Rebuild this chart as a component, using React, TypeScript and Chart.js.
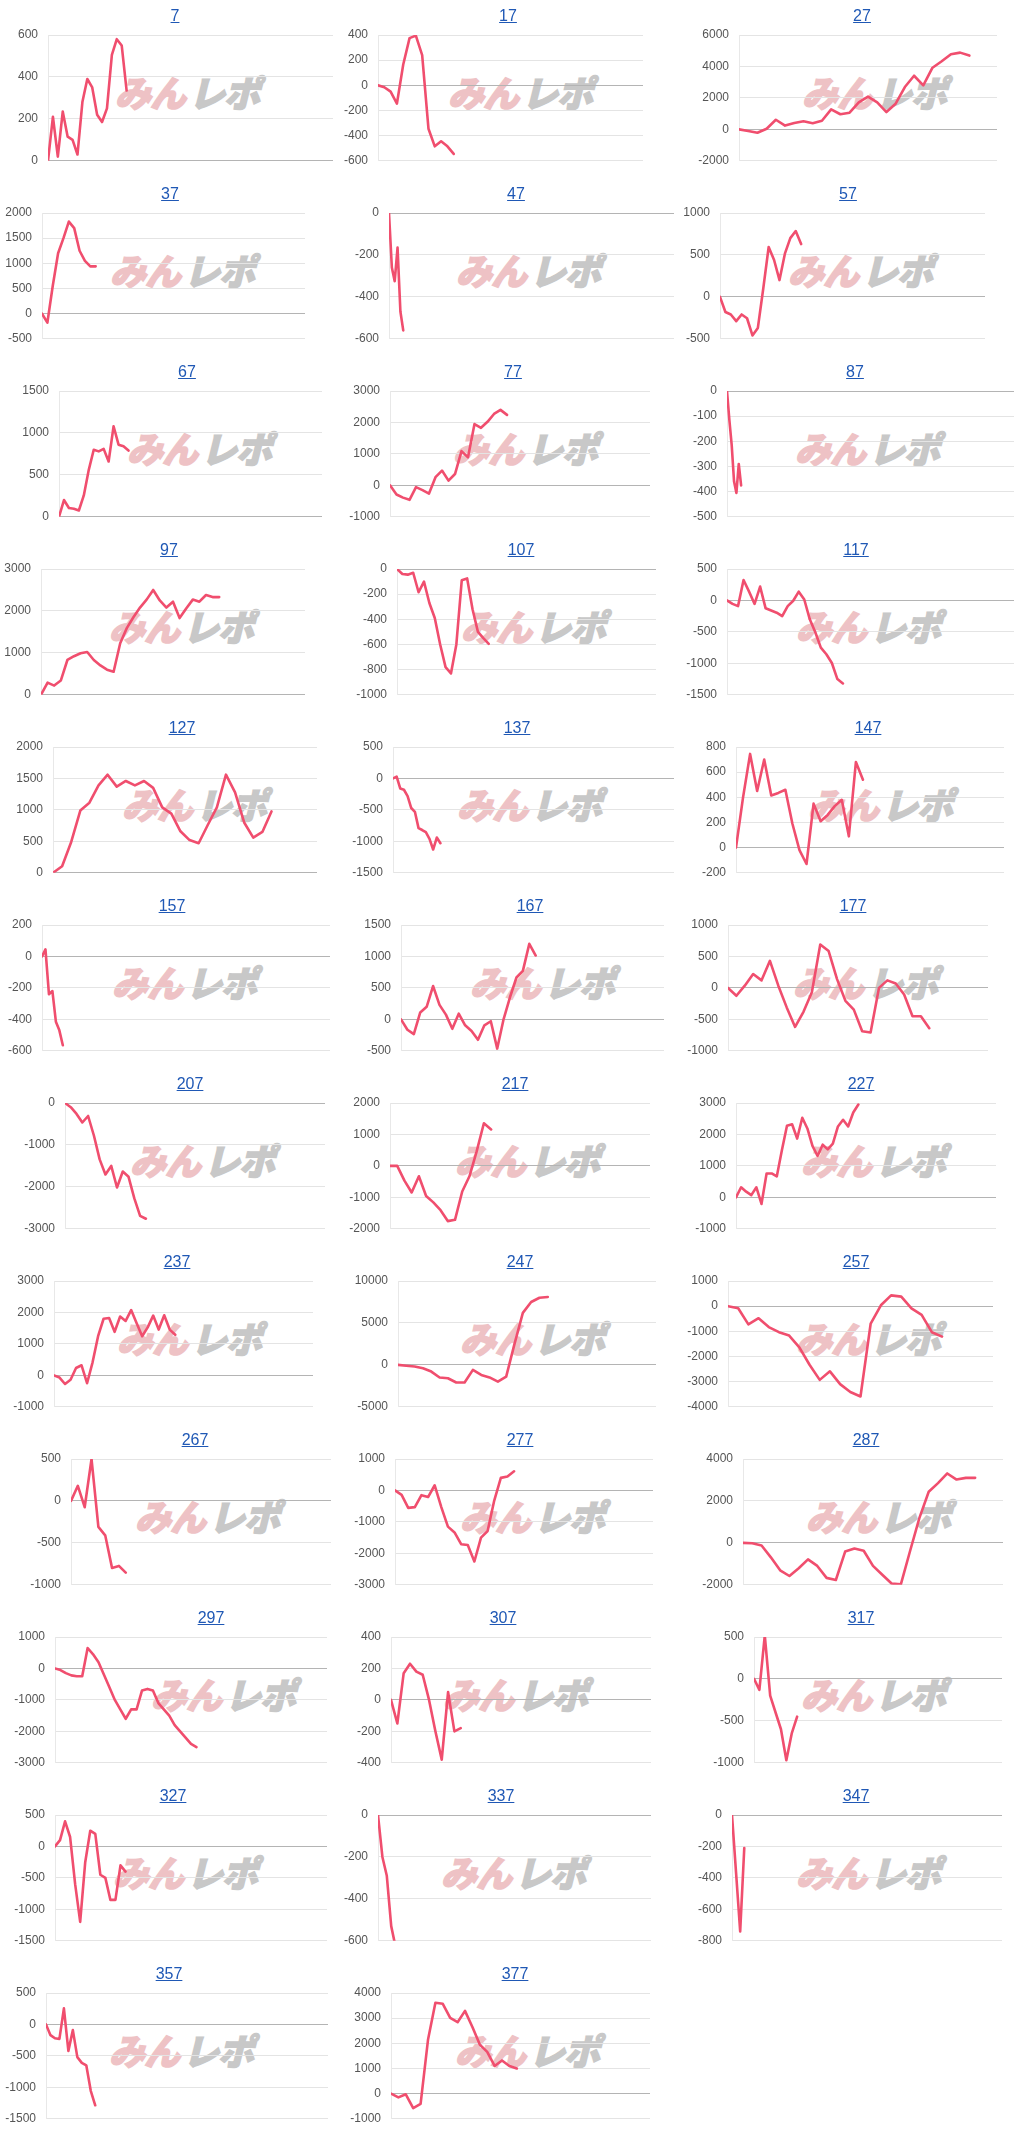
import React, { useEffect, useRef } from "react";
import { Chart, registerables } from "chart.js";

Chart.register(...registerables);

// ---- chart titles (machine numbers) ----
const chartIds = [
  "7", "17", "27", "37", "47", "57", "67", "77", "87", "97", "107", "117",
  "127", "137", "147", "157", "167", "177", "207", "217", "227", "237", "247", "257",
  "267", "277", "287", "297", "307", "317", "327", "337", "347", "357", "377",
];

// ---- series values (one point per day) ----
const s7 = [0, 210, 20, 235, 115, 100, 30, 280, 390, 350, 220, 185, 250, 505, 580, 550, 335];
const s17 = [0, -15, -50, -145, 165, 375, 395, 240, -345, -485, -445, -485, -545];
const s27 = [0, -100, -220, 40, 610, 240, 400, 510, 390, 550, 1270, 960, 1060, 1710, 2080, 1710, 1100, 1630, 2690, 3410, 2800, 3920, 4330, 4780, 4880, 4690];
const s37 = [0, -180, 550, 1200, 1500, 1830, 1700, 1250, 1050, 940, 940];
const s47 = [0, -260, -325, -165, -470, -560];
const s57 = [0, -180, -210, -290, -210, -255, -460, -370, 100, 595, 440, 200, 515, 700, 785, 630];
const s67 = [0, 200, 105, 95, 75, 255, 560, 800, 780, 810, 660, 1080, 860, 840, 790];
const s77 = [0, -290, -390, -460, -55, -150, -260, 260, 470, 150, 360, 1090, 890, 1950, 1830, 2020, 2270, 2400, 2240];
const s87 = [0, -115, -215, -360, -405, -290, -375];
const s97 = [0, 290, 220, 340, 830, 920, 990, 1020, 830, 700, 600, 550, 1230, 1590, 1850, 2080, 2270, 2500, 2250, 2080, 2220, 1830, 2060, 2270, 2220, 2380, 2330, 2330];
const s107 = [0, -40, -45, -30, -185, -100, -270, -390, -600, -780, -830, -600, -90, -75, -320, -500, -550, -595];
const s117 = [0, -55, -90, 325, 140, -55, 220, -125, -160, -195, -250, -90, -5, 140, 15, -300, -505, -750, -855, -995, -1250, -1320];
const s127 = [0, 105, 490, 990, 1115, 1390, 1560, 1370, 1460, 1390, 1460, 1350, 1040, 940, 660, 520, 470, 760, 1040, 1560, 1280, 800, 560, 650, 975];
const s137 = [0, 30, -160, -180, -280, -470, -530, -790, -820, -855, -960, -1130, -940, -1030];
const s147 = [0, 400, 745, 450, 700, 415, 435, 460, 190, -20, -130, 350, 210, 260, 330, 380, 90, 680, 540];
const s157 = [0, 45, -240, -220, -415, -470, -565];
const s167 = [0, -165, -235, 110, 200, 530, 230, 75, -150, 90, -95, -185, -325, -95, -30, -465, 5, 355, 665, 770, 1200, 1015];
const s177 = [0, -125, 35, 220, 120, 430, 35, -310, -620, -380, -70, 690, 585, 140, -205, -345, -690, -710, 0, 120, 70, -105, -450, -450, -640];
const s207 = [0, -100, -260, -465, -310, -775, -1345, -1705, -1500, -2015, -1635, -1760, -2275, -2690, -2760];
const s217 = [0, 0, -470, -845, -330, -955, -1160, -1410, -1755, -1715, -815, -330, 460, 1355, 1160];
const s227 = [0, 320, 180, 70, 320, -210, 760, 760, 665, 1495, 2280, 2325, 1870, 2530, 2190, 1635, 1315, 1675, 1525, 1705, 2255, 2465, 2255, 2700, 2950];
const s237 = [0, -70, -275, -140, 235, 320, -250, 415, 1245, 1800, 1825, 1385, 1870, 1730, 2075, 1660, 1245, 1525, 1900, 1455, 1910, 1455, 1290];
const s247 = [0, -100, -200, -400, -800, -1500, -1600, -2100, -2100, -600, -1200, -1500, -2000, -1400, 2500, 6200, 7500, 8000, 8100];
const s257 = [0, -85, -725, -480, -830, -1035, -1170, -1640, -2330, -2930, -2590, -3100, -3410, -3590, -690, 35, 430, 380, -85, -345, -1035, -1210];
const s267 = [0, 180, -75, 500, -310, -410, -800, -775, -855];
const s277 = [0, -140, -555, -530, -150, -210, 165, -530, -1150, -1335, -1710, -1735, -2260, -1500, -1290, -320, 400, 445, 610];
const s287 = [0, -20, -125, -690, -1310, -1580, -1210, -790, -1100, -1670, -1770, -415, -270, -375, -1100, -1520, -1940, -1980, -375, 1190, 2440, 2850, 3310, 3020, 3100, 3100];
const s297 = [0, -50, -150, -220, -250, -250, 650, 450, 200, -200, -600, -1000, -1300, -1600, -1300, -1300, -700, -650, -700, -1100, -1300, -1500, -1800, -2000, -2200, -2400, -2500];
const s307 = [0, -150, 170, 230, 180, 160, 0, -200, -380, 50, -200, -180];
const s317 = [0, -130, 520, -200, -400, -600, -970, -650, -450];
const s327 = [0, 100, 400, 150, -600, -1200, -250, 250, 200, -450, -500, -850, -850, -300, -400];
const s337 = [0, -200, -290, -530, -630];
const s347 = [0, -370, -740, -210];
const s357 = [0, -170, -220, -230, 255, -420, -90, -520, -610, -650, -1055, -1285];
const s377 = [0, -150, -25, -575, -410, 2140, 3610, 3570, 3010, 2840, 3290, 2650, 1950, 1660, 1100, 1320, 1100, 1000];

const seriesList = [
  s7, s17, s27, s37, s47, s57, s67, s77, s87, s97, s107, s117,
  s127, s137, s147, s157, s167, s177, s207, s217, s227, s237, s247, s257,
  s267, s277, s287, s297, s307, s317, s327, s337, s347, s357, s377,
];

// number of day slots on each x axis
const xSpan = [58, 42, 28, 49, 100, 49, 53, 40, 122, 40, 48, 52, 29, 77, 38, 83, 41, 31, 45, 36, 51, 47, 31, 26, 38, 39, 28, 50, 41, 46, 54, 62, 66, 63, 35];

// y axis tick ranges
const yMin = [0, -600, -2000, -500, -600, -500, 0, -1000, -500, 0, -1000, -1500, 0, -1500, -200, -600, -500, -1000, -3000, -2000, -1000, -1000, -5000, -4000, -1000, -3000, -2000, -3000, -400, -1000, -1500, -600, -800, -1500, -1000];
const yMax = [600, 400, 6000, 2000, 0, 1000, 1500, 3000, 0, 3000, 0, 500, 2000, 500, 800, 200, 1500, 1000, 0, 2000, 3000, 3000, 10000, 1000, 500, 1000, 4000, 1000, 400, 500, 500, 0, 0, 500, 4000];
const yStep = [200, 200, 2000, 500, 200, 500, 500, 1000, 100, 1000, 200, 500, 500, 500, 200, 200, 500, 500, 1000, 1000, 1000, 1000, 5000, 1000, 500, 1000, 2000, 1000, 200, 500, 500, 200, 200, 500, 1000];

// ---- layout (plot area edges and title centre inside each 338x178 cell) ----
const plotLeft = [48, 40, 63, 42, 51, 44, 59, 52, 51, 41, 59, 51, 53, 55, 60, 42, 63, 52, 65, 52, 60, 54, 60, 52, 71, 57, 67, 55, 53, 78, 55, 40, 56, 46, 53];
const plotRight = [333, 305, 321, 305, 336, 309, 322, 312, 338, 305, 318, 338, 317, 336, 328, 330, 326, 312, 325, 312, 320, 313, 318, 317, 331, 315, 327, 327, 313, 326, 327, 313, 326, 328, 312];
const titleX = [175, 170, 186, 170, 178, 172, 187, 175, 179, 169, 183, 180, 182, 179, 192, 172, 192, 177, 190, 177, 185, 177, 182, 180, 195, 182, 190, 211, 165, 185, 173, 163, 180, 169, 177];

const CELL_W = 338;
const CELL_H = 178;
const PLOT_TOP = 35;
const PLOT_BOTTOM = 166;
const LINE_COLOR = "rgb(240, 78, 110)";
const FONT = "'Liberation Sans', Arial, Helvetica, sans-serif";

function MiniChart({ idx }: { idx: number }) {
  const ref = useRef<HTMLCanvasElement | null>(null);
  const left = plotLeft[idx];
  const right = plotRight[idx];

  useEffect(() => {
    if (!ref.current) return;
    const values = seriesList[idx];
    const chart = new Chart(ref.current, {
      type: "line",
      data: {
        datasets: [
          {
            data: values.map((v, i) => ({ x: i, y: v })),
            borderColor: LINE_COLOR,
            borderWidth: 2.6,
            pointRadius: 0,
            tension: 0,
            fill: false,
            borderJoinStyle: "round",
            borderCapStyle: "round",
          },
        ],
      },
      options: {
        animation: false,
        responsive: false,
        maintainAspectRatio: false,
        events: [],
        layout: {
          padding: { left: 0, right: CELL_W - right, top: PLOT_TOP, bottom: CELL_H - PLOT_BOTTOM },
        },
        plugins: { legend: { display: false }, title: { display: false }, tooltip: { enabled: false } },
        scales: {
          x: { type: "linear", display: false, min: 0, max: xSpan[idx] },
          y: {
            min: yMin[idx],
            max: yMax[idx],
            afterFit: (scale: any) => {
              scale.width = left;
            },
            ticks: {
              stepSize: yStep[idx],
              padding: 10,
              color: "#555555",
              font: { family: FONT, size: 12 },
              callback: (v: any) => String(v),
            },
            grid: {
              drawTicks: false,
              color: (ctx: any) => (ctx.tick && ctx.tick.value === 0 ? "#b4b4b4" : "#e4e4e4"),
              lineWidth: 1,
            },
            border: { display: true, color: "#e8e8e8" },
          },
        },
      },
    });
    return () => chart.destroy();
  }, [idx]);

  const col = idx % 3;
  const row = Math.floor(idx / 3);
  const tx = titleX[idx];

  return (
    <div
      style={{
        position: "absolute",
        left: col * CELL_W,
        top: row * CELL_H,
        width: CELL_W,
        height: CELL_H,
      }}
    >
      <div
        style={{
          position: "absolute",
          left: tx + 16,
          top: 91,
          transform: "translate(-50%, -50%) skewX(-14deg)",
          whiteSpace: "nowrap",
          fontFamily: "'Noto Sans CJK JP', sans-serif",
          fontWeight: 900,
          fontSize: 36,
          lineHeight: "36px",
          letterSpacing: -1,
        }}
      >
        <span style={{ color: "#eec2c5", WebkitTextStroke: "1.5px #eec2c5" }}>みん</span>
        <span style={{ color: "#c8c8c8", WebkitTextStroke: "1.5px #c8c8c8", marginLeft: 4 }}>レポ</span>
      </div>
      <canvas
        ref={ref}
        width={CELL_W}
        height={CELL_H}
        style={{ position: "absolute", left: 0, top: 0, width: CELL_W, height: CELL_H }}
      />
      <a
        href="#"
        style={{
          position: "absolute",
          left: tx,
          top: 16,
          transform: "translate(-50%, -50%)",
          fontFamily: FONT,
          fontSize: 16,
          lineHeight: "18px",
          color: "#1f58b5",
          textDecoration: "underline",
        }}
      >
        {chartIds[idx]}
      </a>
    </div>
  );
}

export default function App() {
  return (
    <div
      style={{
        position: "absolute",
        left: 0,
        top: 0,
        width: 1014,
        height: 2136,
        background: "#ffffff",
        overflow: "hidden",
      }}
    >
      {chartIds.map((id, i) => (
        <MiniChart key={id} idx={i} />
      ))}
    </div>
  );
}
